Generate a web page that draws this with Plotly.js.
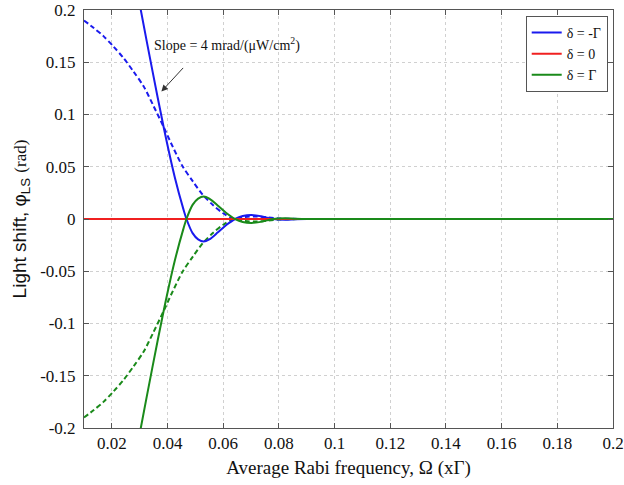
<!DOCTYPE html>
<html>
<head>
<meta charset="utf-8">
<script src="https://cdn.plot.ly/plotly-3.0.1.min.js"></script>
<style>html,body{margin:0;padding:0;background:#fff;}#chart{width:624px;height:485px;}</style>
</head>
<body>
<div id="chart"></div>
<script>
// Solid curves (x positions and values)
var xSolid = [0.028, 0.0304, 0.0345, 0.0386, 0.0426, 0.0458, 0.0468, 0.049, 0.051, 0.053, 0.055, 0.058, 0.061, 0.0643, 0.067, 0.0701, 0.074, 0.0778, 0.082, 0.086, 0.09, 0.1, 0.15, 0.2];
var blueSolid = [0.236, 0.200, 0.143, 0.088, 0.040, 0.0085, 0, -0.0135, -0.0195, -0.0215, -0.0195, -0.013, -0.006, 0, 0.0028, 0.0038, 0.0025, 0, -0.0008, -0.0003, 0, 0, 0, 0];
var greenSolid = [-0.236, -0.200, -0.143, -0.088, -0.040, -0.0085, 0, 0.0135, 0.0195, 0.0215, 0.0195, 0.013, 0.006, 0, -0.0028, -0.0038, -0.0025, 0, 0.0008, 0.0003, 0, 0, 0, 0];
// Dashed curves
var xDash = [0.01, 0.0134, 0.017, 0.0206, 0.0242, 0.0278, 0.0314, 0.035, 0.0386, 0.0419, 0.0455, 0.0491, 0.0527, 0.0563, 0.06, 0.0635, 0.068, 0.072, 0.076, 0.08, 0.09, 0.1, 0.2];
var blueDash = [0.190, 0.183, 0.175, 0.165, 0.154, 0.141, 0.127, 0.108, 0.088, 0.069, 0.050, 0.036, 0.023, 0.0134, 0.0055, 0.0005, 0.002, 0.0025, 0.0015, 0.0005, 0, 0, 0];
var greenDash = [-0.190, -0.183, -0.175, -0.165, -0.154, -0.141, -0.127, -0.108, -0.088, -0.069, -0.050, -0.036, -0.023, -0.0134, -0.0055, -0.0005, -0.002, -0.0025, -0.0015, -0.0005, 0, 0, 0];
// Red (delta = 0)
var xRed = [0.01, 0.2];
var redVals = [0, 0];

var seriesNames = ['δ = -Γ', 'δ = 0', 'δ = Γ'];
var xTicks = [0.02, 0.04, 0.06, 0.08, 0.1, 0.12, 0.14, 0.16, 0.18, 0.2];
var xTickText = ['0.02', '0.04', '0.06', '0.08', '0.1', '0.12', '0.14', '0.16', '0.18', '0.2'];
var yTicks = [-0.2, -0.15, -0.1, -0.05, 0, 0.05, 0.1, 0.15, 0.2];
var yTickText = ['-0.2', '-0.15', '-0.1', '-0.05', '0', '0.05', '0.1', '0.15', '0.2'];

var BLUE = '#1a1aee', RED = '#f02020', GREEN = '#1a8a1a';
var serif = 'Liberation Serif, Times New Roman, serif';

var traces = [
  {x: xDash, y: blueDash, mode: 'lines', line: {color: BLUE, width: 2, dash: '5px,3px', shape: 'spline', smoothing: 0.8}, showlegend: false, hoverinfo: 'skip'},
  {x: xDash, y: greenDash, mode: 'lines', line: {color: GREEN, width: 2, dash: '5px,3px', shape: 'spline', smoothing: 0.8}, showlegend: false, hoverinfo: 'skip'},
  {x: xSolid, y: blueSolid, mode: 'lines', name: seriesNames[0], line: {color: BLUE, width: 2, shape: 'spline', smoothing: 0.8}},
  {x: xRed, y: redVals, mode: 'lines', name: seriesNames[1], line: {color: RED, width: 2}},
  {x: xSolid, y: greenSolid, mode: 'lines', name: seriesNames[2], line: {color: GREEN, width: 2, shape: 'spline', smoothing: 0.8}}
];

var axisCommon = {
  showline: true, linecolor: '#555', linewidth: 1, mirror: 'ticks',
  ticks: 'inside', ticklen: 5, tickcolor: '#555',
  showgrid: true, gridcolor: '#d0d0d0', griddash: 'dot', gridwidth: 1,
  zeroline: false,
  tickfont: {family: serif, size: 17, color: '#111'}
};

var layout = {
  width: 624, height: 485,
  margin: {l: 84, r: 11, t: 10, b: 57},
  paper_bgcolor: '#fff', plot_bgcolor: '#fff',
  xaxis: Object.assign({}, axisCommon, {
    range: [0.01, 0.2], tickvals: xTicks, ticktext: xTickText,
    title: {text: 'Average Rabi frequency, Ω (xΓ)', font: {family: serif, size: 19, color: '#111'}, standoff: 8}
  }),
  yaxis: Object.assign({}, axisCommon, {
    range: [-0.2, 0.2], tickvals: yTicks, ticktext: yTickText, ticklabelstandoff: 4,
    title: {text: 'Light shift, φ<sub>LS</sub> <span style="font-family:Liberation Serif;font-size:17px">(rad)</span>', font: {family: 'Liberation Sans, Arial, sans-serif', size: 19, color: '#111'}, standoff: 8}
  }),
  showlegend: true,
  legend: {
    x: 0.99, xanchor: 'right', y: 0.986, yanchor: 'top',
    bgcolor: '#fff', bordercolor: '#555', borderwidth: 1,
    font: {family: serif, size: 14, color: '#111'},
    tracegroupgap: 0, itemwidth: 30
  },
  annotations: [
    {x: 0.0613, y: 0.1667, xref: 'x', yref: 'y', text: 'Slope = 4 mrad/(μW/cm<sup>2</sup>)', showarrow: false,
     font: {family: serif, size: 14, color: '#111'}},
    {x: 0.0378, y: 0.122, xref: 'x', yref: 'y', ax: 0.0461, ay: 0.146, axref: 'x', ayref: 'y', text: '',
     showarrow: true, arrowhead: 2, arrowsize: 1.3, arrowwidth: 1, arrowcolor: '#333'}
  ]
};

Plotly.newPlot('chart', traces, layout, {staticPlot: true, displayModeBar: false});
</script>
</body>
</html>
